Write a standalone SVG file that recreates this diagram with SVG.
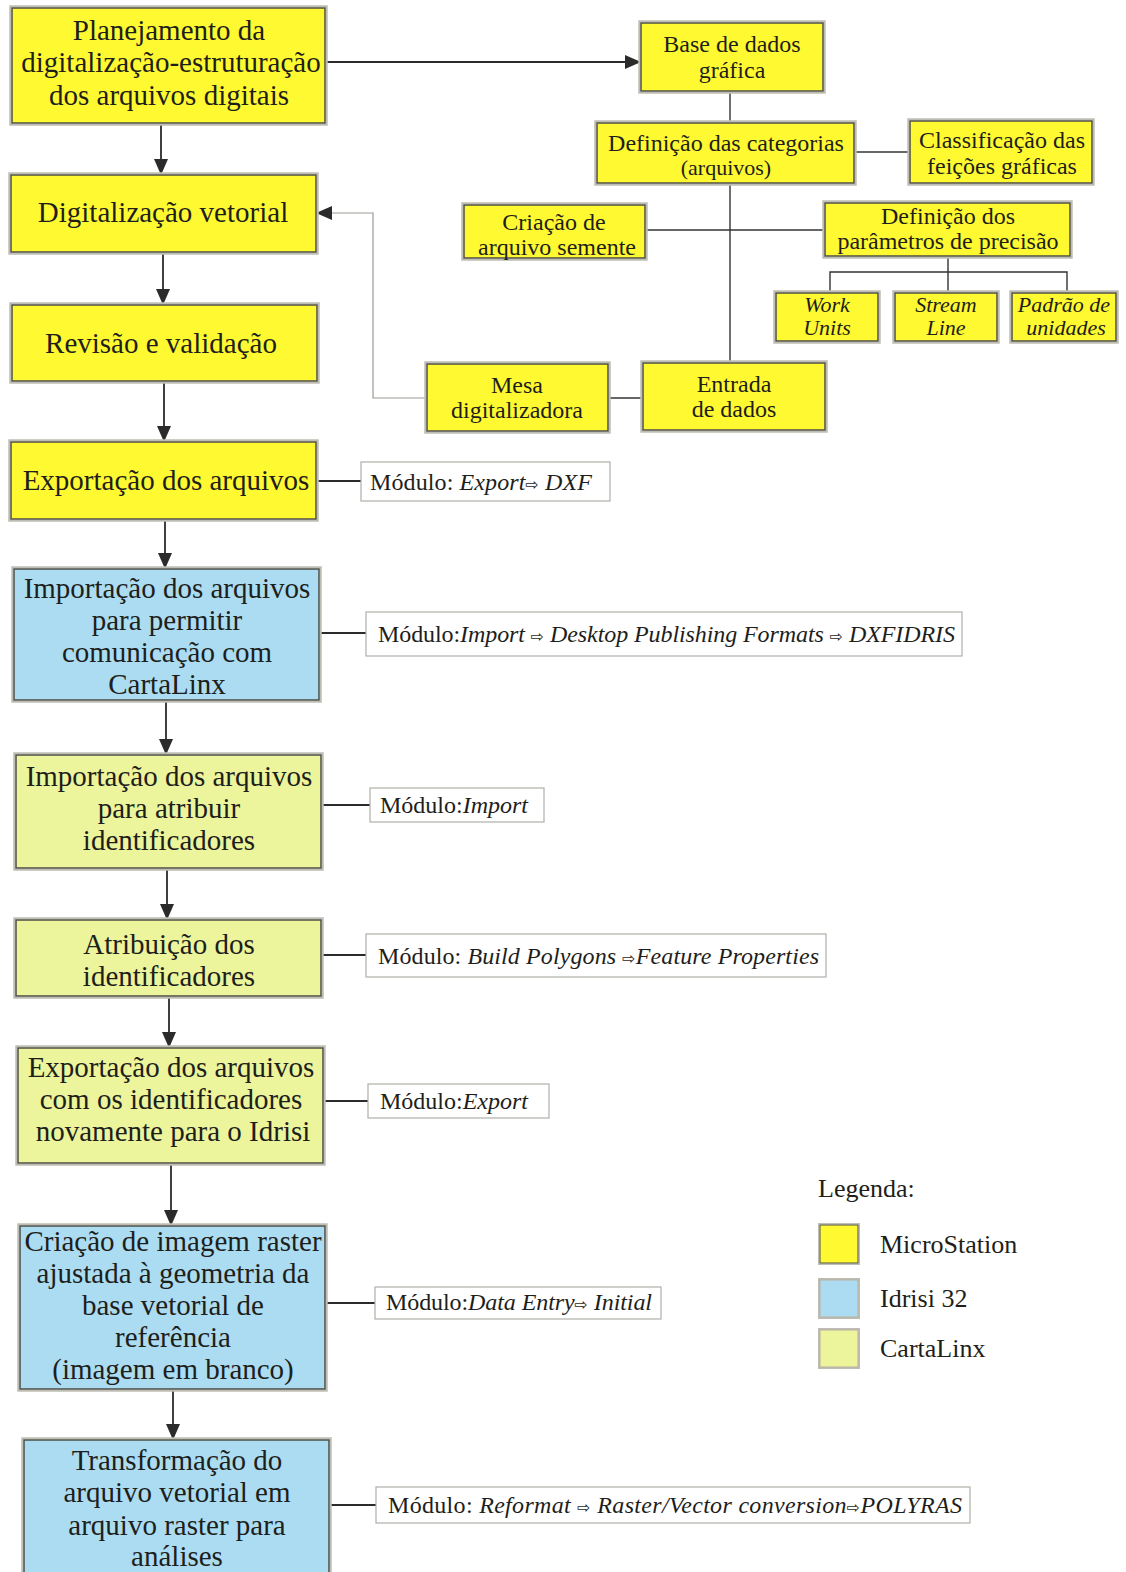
<svg xmlns="http://www.w3.org/2000/svg" width="1126" height="1572" viewBox="0 0 1126 1572">
<defs>
<filter id="halo" x="-5%" y="-5%" width="110%" height="110%">
<feMorphology in="SourceAlpha" operator="dilate" radius="2" result="d"/>
<feFlood flood-color="#bdbdb5"/>
<feComposite in2="d" operator="in" result="h"/>
<feMerge><feMergeNode in="h"/><feMergeNode in="SourceGraphic"/></feMerge>
</filter>
<marker id="arr" viewBox="0 0 16 14" refX="16" refY="7" markerWidth="16" markerHeight="14" markerUnits="userSpaceOnUse" orient="auto">
<path d="M0,0 L16,7 L0,14 Z" fill="#2b2b2b"/>
</marker>
</defs>
<style>
text{font-family:"Liberation Serif","Times New Roman",serif;fill:#1e1e1a;text-anchor:middle}
.big{font-size:29px}
.mid{font-size:24px}
.sm{font-size:22px}
.it{font-style:italic}
.yel{fill:#FFF930}
.blu{fill:#ABDCF2}
.grn{fill:#ECF49C}
.box{stroke:#4d4d44;stroke-width:1.5;filter:url(#halo)}
.mod{fill:#ffffff;stroke:#b0b0a8;stroke-width:1.2}
.mt{font-size:24px;text-anchor:start}
.ar{font-family:"DejaVu Sans",sans-serif;font-size:16px;font-style:normal}
.leg{font-size:26px;text-anchor:start}
.ln{stroke:#2b2b2b;stroke-width:1.8;fill:none}
.tl{stroke:#333;stroke-width:1.4;fill:none}
.gl{stroke:#9a9a94;stroke-width:1.2;fill:none}
</style>

<g id="connectors">
<line class="ln" x1="161" y1="123" x2="161" y2="175" marker-end="url(#arr)"/>
<line class="ln" x1="163" y1="252" x2="163" y2="305" marker-end="url(#arr)"/>
<line class="ln" x1="164" y1="381" x2="164" y2="442" marker-end="url(#arr)"/>
<line class="ln" x1="165" y1="519" x2="165" y2="569" marker-end="url(#arr)"/>
<line class="ln" x1="166" y1="700" x2="166" y2="755" marker-end="url(#arr)"/>
<line class="ln" x1="167" y1="868" x2="167" y2="920" marker-end="url(#arr)"/>
<line class="ln" x1="169" y1="996" x2="169" y2="1048" marker-end="url(#arr)"/>
<line class="ln" x1="171" y1="1163" x2="171" y2="1226" marker-end="url(#arr)"/>
<line class="ln" x1="173" y1="1389" x2="173" y2="1440" marker-end="url(#arr)"/>
<line class="ln" x1="325" y1="62" x2="641" y2="62" marker-end="url(#arr)"/>
<line class="tl" x1="730" y1="91" x2="730" y2="123"/>
<line class="tl" x1="854" y1="152" x2="910" y2="152"/>
<line class="tl" x1="730" y1="183" x2="730" y2="363"/>
<line class="tl" x1="645" y1="230" x2="825" y2="230"/>
<polyline class="tl" points="948,256 948,272"/>
<polyline class="tl" points="830,293 830,272 1067,272 1067,293"/>
<line class="tl" x1="948" y1="272" x2="948" y2="293"/>
<line class="tl" x1="608" y1="398" x2="643" y2="398"/>
<polyline class="gl" points="427,398 373,398 373,213 316,213" marker-end="url(#arr)"/>
<line class="ln" x1="316" y1="481" x2="361" y2="481"/>
<line class="ln" x1="319" y1="633" x2="366" y2="633"/>
<line class="ln" x1="321" y1="805" x2="370" y2="805"/>
<line class="ln" x1="321" y1="955" x2="366" y2="955"/>
<line class="ln" x1="323" y1="1101" x2="368" y2="1101"/>
<line class="ln" x1="325" y1="1303" x2="375" y2="1303"/>
<line class="ln" x1="329" y1="1505" x2="376" y2="1505"/>
</g>

<g id="n1"><rect class="box yel" x="12" y="8" width="313" height="115"/>
<text class="big" x="169" y="40">Planejamento da</text>
<text class="big" x="171" y="72">digitalização-estruturação</text>
<text class="big" x="169" y="105">dos arquivos digitais</text></g>

<g id="n2"><rect class="box yel" x="11" y="175" width="305" height="77"/>
<text class="big" x="163" y="222">Digitalização vetorial</text></g>

<g id="n3"><rect class="box yel" x="12" y="305" width="305" height="76"/>
<text class="big" x="161" y="353">Revisão e validação</text></g>

<g id="n4"><rect class="box yel" x="11" y="442" width="305" height="77"/>
<text class="big" x="166" y="490">Exportação dos arquivos</text></g>

<g id="n5"><rect class="box blu" x="14" y="569" width="305" height="131"/>
<text class="big" x="167" y="598">Importação dos arquivos</text>
<text class="big" x="167" y="630">para permitir</text>
<text class="big" x="167" y="662">comunicação com</text>
<text class="big" x="167" y="694">CartaLinx</text></g>

<g id="n6"><rect class="box grn" x="16" y="755" width="305" height="113"/>
<text class="big" x="169" y="786">Importação dos arquivos</text>
<text class="big" x="169" y="818">para atribuir</text>
<text class="big" x="169" y="850">identificadores</text></g>

<g id="n7"><rect class="box grn" x="16" y="920" width="305" height="76"/>
<text class="big" x="169" y="954">Atribuição dos</text>
<text class="big" x="169" y="986">identificadores</text></g>

<g id="n8"><rect class="box grn" x="18" y="1048" width="305" height="115"/>
<text class="big" x="171" y="1077">Exportação dos arquivos</text>
<text class="big" x="171" y="1109">com os identificadores</text>
<text class="big" x="173" y="1141">novamente para o Idrisi</text></g>

<g id="n9"><rect class="box blu" x="20" y="1226" width="305" height="163"/>
<text class="big" x="173" y="1251">Criação de imagem raster</text>
<text class="big" x="173" y="1283">ajustada à geometria da</text>
<text class="big" x="173" y="1315">base vetorial de</text>
<text class="big" x="173" y="1347">referência</text>
<text class="big" x="173" y="1379">(imagem em branco)</text></g>

<g id="n10"><rect class="box blu" x="24" y="1440" width="305" height="140"/>
<text class="big" x="177" y="1470">Transformação do</text>
<text class="big" x="177" y="1502">arquivo vetorial em</text>
<text class="big" x="177" y="1535">arquivo raster para</text>
<text class="big" x="177" y="1566">análises</text></g>

<g id="base"><rect class="box yel" x="641" y="23" width="182" height="68"/>
<text class="mid" x="732" y="52">Base de dados</text>
<text class="mid" x="732" y="78">gráfica</text></g>

<g id="defcat"><rect class="box yel" x="597" y="123" width="257" height="60"/>
<text class="mid" x="726" y="151">Definição das categorias</text>
<text class="sm" x="726" y="175">(arquivos)</text></g>

<g id="classif"><rect class="box yel" x="910" y="121" width="182" height="62"/>
<text class="mid" x="1002" y="148">Classificação das</text>
<text class="mid" x="1002" y="174">feições gráficas</text></g>

<g id="semente"><rect class="box yel" x="464" y="205" width="181" height="53"/>
<text class="mid" x="554" y="230">Criação de</text>
<text class="mid" x="557" y="255">arquivo semente</text></g>

<g id="param"><rect class="box yel" x="825" y="203" width="245" height="53"/>
<text class="mid" x="948" y="224">Definição dos</text>
<text class="mid" x="948" y="249">parâmetros de precisão</text></g>

<g id="work"><rect class="box yel" x="776" y="293" width="102" height="48"/>
<text class="sm it" x="827" y="312">Work</text>
<text class="sm it" x="827" y="335">Units</text></g>

<g id="stream"><rect class="box yel" x="895" y="293" width="102" height="48"/>
<text class="sm it" x="946" y="312">Stream</text>
<text class="sm it" x="946" y="335">Line</text></g>

<g id="padrao"><rect class="box yel" x="1012" y="293" width="104" height="48"/>
<text class="sm it" x="1064" y="312">Padrão de</text>
<text class="sm it" x="1066" y="335">unidades</text></g>

<g id="mesa"><rect class="box yel" x="427" y="364" width="181" height="67"/>
<text class="mid" x="517" y="393">Mesa</text>
<text class="mid" x="517" y="418">digitalizadora</text></g>

<g id="entrada"><rect class="box yel" x="643" y="363" width="182" height="67"/>
<text class="mid" x="734" y="392">Entrada</text>
<text class="mid" x="734" y="417">de dados</text></g>

<g id="m1"><rect class="mod" x="361" y="462" width="249" height="39"/>
<text class="mt" x="370" y="490" textLength="222" lengthAdjust="spacing">Módulo: <tspan class="it">Export</tspan><tspan class="ar">⇨</tspan><tspan class="it"> DXF</tspan></text></g>

<g id="m2"><rect class="mod" x="366" y="612" width="596" height="44"/>
<text class="mt" x="378" y="642" textLength="577" lengthAdjust="spacing">Módulo:<tspan class="it">Import</tspan> <tspan class="ar">⇨</tspan> <tspan class="it">Desktop Publishing Formats</tspan> <tspan class="ar">⇨</tspan> <tspan class="it">DXFIDRIS</tspan></text></g>

<g id="m3"><rect class="mod" x="370" y="788" width="174" height="34"/>
<text class="mt" x="380" y="813" textLength="148" lengthAdjust="spacing">Módulo:<tspan class="it">Import</tspan></text></g>

<g id="m4"><rect class="mod" x="366" y="934" width="460" height="43"/>
<text class="mt" x="378" y="964" textLength="441" lengthAdjust="spacing">Módulo: <tspan class="it">Build Polygons</tspan> <tspan class="ar">⇨</tspan><tspan class="it">Feature Properties</tspan></text></g>

<g id="m5"><rect class="mod" x="368" y="1084" width="181" height="34"/>
<text class="mt" x="380" y="1109" textLength="148" lengthAdjust="spacing">Módulo:<tspan class="it">Export</tspan></text></g>

<g id="m6"><rect class="mod" x="375" y="1287" width="286" height="32"/>
<text class="mt" x="386" y="1310" textLength="266" lengthAdjust="spacing">Módulo:<tspan class="it">Data Entry</tspan><tspan class="ar">⇨</tspan> <tspan class="it">Initial</tspan></text></g>

<g id="m7"><rect class="mod" x="376" y="1487" width="594" height="36"/>
<text class="mt" x="388" y="1513" textLength="574" lengthAdjust="spacing">Módulo: <tspan class="it">Reformat</tspan> <tspan class="ar">⇨</tspan> <tspan class="it">Raster/Vector conversion</tspan><tspan class="ar">⇨</tspan><tspan class="it">POLYRAS</tspan></text></g>

<g id="legend">
<text class="leg" x="818" y="1197">Legenda:</text>
<rect class="box yel" x="820" y="1225" width="38" height="38" style="stroke-width:1"/>
<rect class="box blu" x="820" y="1280" width="38" height="37" style="stroke-width:1;stroke:#b9b0a0"/>
<rect class="box grn" x="820" y="1330" width="38" height="37" style="stroke-width:1;stroke:#b9b0a0"/>
<text class="leg" x="880" y="1253">MicroStation</text>
<text class="leg" x="880" y="1307">Idrisi 32</text>
<text class="leg" x="880" y="1357">CartaLinx</text>
</g>
</svg>
